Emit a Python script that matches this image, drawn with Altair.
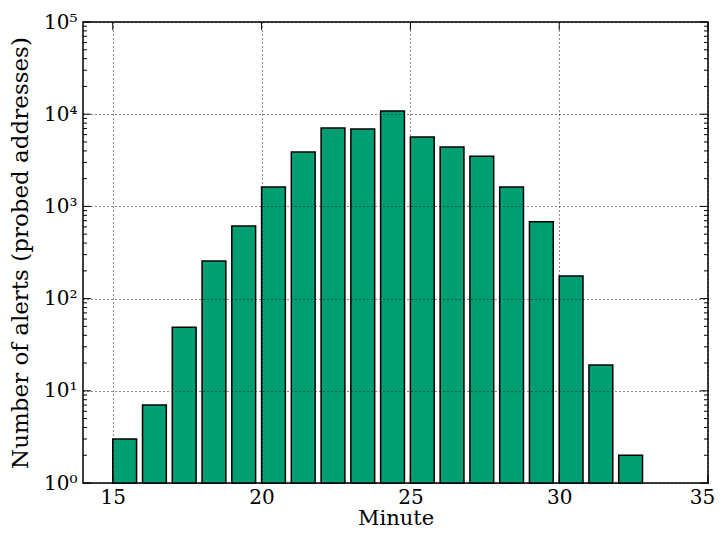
import altair as alt
import pandas as pd

minutes = [15, 16, 17, 18, 19, 20, 21, 22, 23, 24, 25, 26, 27, 28, 29, 30, 31, 32]
counts = [3, 7, 49, 256, 613, 1620, 3900, 7100, 6900, 10800, 5650, 4400, 3500, 1620, 680, 176, 19, 2]

x_ticks = [15, 20, 25, 30, 35]
y_major = [1, 10, 100, 1000, 10000, 100000]
y_minor = [m * 10 ** d for d in range(5) for m in range(2, 10)]

W, H = 625, 461
FONT = "DejaVu Serif"
GREEN = "#009E73"

xscale = alt.Scale(domain=[14, 35], nice=False, zero=False)
yscale = alt.Scale(type="log", domain=[1, 100000], nice=False)

sup = "['\u2070','\u00b9','\u00b2','\u00b3','\u2074','\u2075']"

common = dict(
    grid=True,
    gridColor="black",
    gridDash=[1, 3],
    gridWidth=1,
    gridOpacity=0.9,
    ticks=False,
    domain=False,
    labelFont=FONT,
    labelFontSize=20,
    labelColor="black",
    labelFlush=False,
    titleFont=FONT,
    titleFontWeight="normal",
    titleColor="black",
    zindex=1,
)

xaxis = alt.Axis(
    values=x_ticks,
    title="Minute",
    titlePadding=0,
    titleFontSize=21,
    labelPadding=4,
    labelOffset={"condition": {"test": "datum.value == 35", "value": -6}, "value": 0},
    **common,
)
yaxis = alt.Axis(
    values=y_major,
    labelExpr="'10' + " + sup + "[round(log(datum.value) / LN10)]",
    title="Number of alerts (probed addresses)",
    titlePadding=11,
    titleFontSize=23,
    labelPadding=6,
    **common,
)

bars_df = pd.DataFrame({"minute": minutes, "count": counts})
xt_df = pd.DataFrame({"v": x_ticks})
ymaj_df = pd.DataFrame({"v": y_major})
ymin_df = pd.DataFrame({"v": y_minor})

bars = (
    alt.Chart(bars_df)
    .transform_calculate(end="datum.minute + 0.8", base="1")
    .mark_rect(fill=GREEN, stroke="black", strokeWidth=1.5)
    .encode(
        x=alt.X("minute:Q", scale=xscale, axis=xaxis),
        x2="end:Q",
        y=alt.Y("count:Q", scale=yscale, axis=yaxis),
        y2="base:Q",
    )
)

def yticks(df, x0, x1):
    return alt.Chart(df).mark_rule(color="black", strokeWidth=1).encode(
        y=alt.Y("v:Q", scale=yscale, axis=yaxis),
        x=alt.value(x0),
        x2=alt.value(x1),
    )

def xticks(y0, y1):
    return alt.Chart(xt_df).mark_rule(color="black", strokeWidth=1).encode(
        x=alt.X("v:Q", scale=xscale, axis=xaxis),
        y=alt.value(y0),
        y2=alt.value(y1),
    )

layers = [
    bars,
    yticks(ymaj_df, 0, 8),
    yticks(ymin_df, 0, 4),
    yticks(ymaj_df, W - 8, W),
    yticks(ymin_df, W - 4, W),
    xticks(H - 8, H),
    xticks(0, 8),
]

chart = (
    alt.layer(*layers)
    .properties(
        width=W,
        height=H,
        autosize=alt.AutoSizeParams(type="none"),
        padding={"left": 75, "top": 14, "right": 7, "bottom": 46},
        background="white",
    )
    .configure_view(stroke="black", strokeWidth=1.5)
)

chart.save("out.html", embed_options={"renderer": "svg", "actions": False})
